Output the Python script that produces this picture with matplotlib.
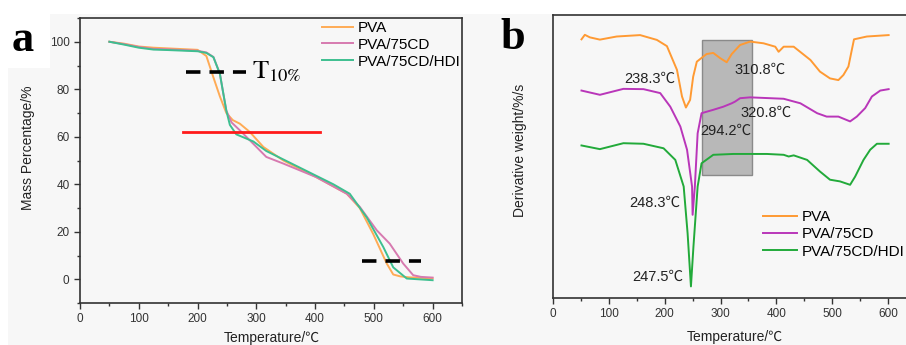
import matplotlib
matplotlib.use("Agg")
import matplotlib.pyplot as plt
from matplotlib.patches import Rectangle
from matplotlib.ticker import MultipleLocator

plt.rcParams['font.family'] = ['Liberation Sans', 'Noto Sans CJK SC', 'DejaVu Sans']
plt.rcParams['mathtext.fontset'] = 'stix'

names = ["PVA", "PVA/75CD", "PVA/75CD/HDI"]

# (a) TGA curves
pva_t = [50, 75, 100, 125, 150, 200, 215, 227, 238, 249, 260, 272, 289, 312, 346, 402, 454, 476, 499, 522, 533, 545, 560, 600]
pva_m = [100, 99.2, 98, 97.5, 97.2, 96.6, 94, 85, 77, 70, 67, 65.5, 62, 55.7, 50, 43, 36, 30, 19, 6.6, 2, 1.2, 0.8, 0.4]
cd_t = [50, 75, 100, 125, 150, 200, 215, 227, 238, 244, 249, 258, 272, 295, 317, 346, 402, 454, 476, 505, 527, 550, 567, 580, 600]
cd_m = [100, 99, 97.8, 97, 96.8, 96.2, 95.5, 93.6, 86.6, 78, 71, 66, 62.7, 57, 51.5, 48.7, 43, 36, 30.5, 20.6, 15, 6.6, 1.7, 1, 0.7]
hdi_t = [50, 75, 100, 125, 150, 200, 215, 227, 238, 244, 249, 255, 266, 295, 317, 374, 431, 459, 488, 516, 533, 556, 600]
hdi_m = [100, 98.8, 97.5, 96.7, 96.5, 96, 95.3, 93.5, 86.5, 78, 71, 65, 61, 58, 54, 47, 40, 36, 26, 13.6, 5, 0.3, -0.4]

# (b) DTG curves (arbitrary units, offset)
pva_dt = [51, 57, 66, 84, 114, 156, 186, 204, 222, 231, 238, 245.5, 251, 257.5, 269, 275, 287, 299, 311, 320, 335, 353, 377, 398, 404, 413, 431, 461, 478, 496, 511, 520, 529, 535, 539, 562, 601]
pva_d = [91.4, 93, 92.1, 91.3, 92.4, 92.9, 91.2, 89, 80.6, 71.2, 67.3, 70, 78.2, 83.5, 85.3, 86.2, 86.6, 84.8, 83.3, 86.2, 89.4, 90.6, 90, 88.8, 87, 88.8, 88.8, 84.1, 80, 77.6, 77, 78.8, 81.8, 87.6, 91.4, 92.4, 92.9]
cd_dt = [51, 84, 126, 162, 192, 210, 228, 240, 249, 250, 254, 259, 266, 287, 305, 320, 326, 335, 353, 413, 443, 473, 490, 511, 532, 544, 559, 571, 586, 601]
cd_d = [73.3, 71.8, 73.9, 73.8, 72.4, 67.6, 60.6, 52.4, 39.4, 29.4, 39.4, 58.2, 65.3, 66.5, 67.6, 68.8, 69.4, 70.6, 70.9, 70.4, 68.8, 65.3, 64.1, 64.1, 62.4, 64.1, 67.1, 71.2, 73.3, 73.8]
hdi_dt = [51, 84, 126, 162, 198, 219, 234, 241, 247, 251.5, 259, 266, 287, 323, 383, 413, 422, 431, 455, 478, 496, 514, 532, 541, 556, 568, 580, 601]
hdi_d = [53.9, 52.6, 54.7, 54.5, 52.9, 48.8, 39.4, 22.9, 4.1, 18.2, 39.4, 47.6, 50.6, 50.9, 50.9, 50.6, 50, 50.4, 48.8, 44.7, 41.8, 41.2, 40, 42.9, 48.8, 52.4, 54.5, 54.5]

peak_labels = ["238.3\u2103", "310.8\u2103", "320.8\u2103", "294.2\u2103", "248.3\u2103", "247.5\u2103"]
peak_x = [174, 370, 382, 310, 183, 188]
peak_y = [77.6, 80.6, 65.3, 59.2, 33.5, 7.6]

ticks_x = [0, 100, 200, 300, 400, 500, 600]
ticks_y = [0, 20, 40, 60, 80, 100]

fig = plt.figure(figsize=(9.06, 3.45), dpi=100)
bg = '#f7f7f7'
fig.patches.append(Rectangle((8 / 906, 0), 1, 1 - 14 / 345, transform=fig.transFigure,
                             facecolor=bg, edgecolor='none', zorder=-10))
fig.patches.append(Rectangle((8 / 906, 1 - 68 / 345), 42 / 906, 54 / 345, transform=fig.transFigure,
                             facecolor='white', edgecolor='none', zorder=-9))

axa = fig.add_axes([80 / 906, 1 - 303 / 345, 382 / 906, 285 / 345])
axb = fig.add_axes([553 / 906, 1 - 298 / 345, 363 / 906, 283 / 345])

spine_c = '#333333'
for ax in (axa, axb):
    ax.set_facecolor(bg)
    for s in ax.spines.values():
        s.set_color(spine_c)
        s.set_linewidth(1.2)
    ax.tick_params(direction='out', colors=spine_c, labelsize=8.5, labelcolor='#333333', length=4, width=1)
    ax.tick_params(which='minor', direction='out', colors=spine_c, length=2.5, width=1)
    ax.set_xlim(0, 650)
    ax.set_xticks(ticks_x)
    ax.xaxis.set_minor_locator(MultipleLocator(50))

# panel a
ca = ['#ffab55', '#d77ab0', '#3dbf90']
axa.plot(pva_t, pva_m, color=ca[0], lw=1.4, label=names[0])
axa.plot(cd_t, cd_m, color=ca[1], lw=1.4, label=names[1])
axa.plot(hdi_t, hdi_m, color=ca[2], lw=1.4, label=names[2])
axa.plot([181, 283], [87.3, 87.3], color='black', lw=2.6, linestyle=(0, (4, 2.5)))
axa.plot([479, 581], [7.7, 7.7], color='black', lw=2.6, linestyle=(0, (4, 2.5)))
axa.plot([175, 408], [61.9, 61.9], color='#ff1a1a', lw=2)
axa.text(293, 87.3, r'$\mathrm{T}_{10\%}$', fontsize=19, va='center', ha='left')
axa.set_ylim(-10, 110)
axa.set_yticks(ticks_y)
axa.yaxis.set_minor_locator(MultipleLocator(10))
axa.set_xlabel("Temperature/\u2103", fontsize=10, color='#222222')
axa.set_ylabel("Mass Percentage/%", fontsize=10, color='#222222')
axa.xaxis.set_label_coords(0.503, -0.098)
axa.yaxis.set_label_coords(-0.118, 0.546)
axa.legend(loc='upper left', bbox_to_anchor=(322 / 906, 1 - 21 / 345), bbox_transform=fig.transFigure,
           frameon=False, fontsize=11, handlelength=2.0, handletextpad=0.35, labelspacing=0.18,
           borderpad=0, borderaxespad=0)

# panel b
cb = ['#ff9a33', '#b936b9', '#22aa3a']
axb.add_patch(Rectangle((267.6, 43.5), 88.4, 47.7, facecolor='#b8b8b8', edgecolor='#8a8a8a', lw=1, zorder=1))
axb.plot(pva_dt, pva_d, color=cb[0], lw=1.4, label=names[0], zorder=2)
axb.plot(cd_dt, cd_d, color=cb[1], lw=1.4, label=names[1], zorder=2)
axb.plot(hdi_dt, hdi_d, color=cb[2], lw=1.4, label=names[2], zorder=2)
for lab, x, y in zip(peak_labels, peak_x, peak_y):
    axb.text(x, y, lab, fontsize=10.5, ha='center', va='center', color='#222222', zorder=3)
axb.set_ylim(0, 100)
axb.set_yticks([])
axb.set_xlabel("Temperature/\u2103", fontsize=10, color='#222222')
axb.set_ylabel("Derivative weight/%/s", fontsize=10, color='#222222')
axb.xaxis.set_label_coords(182 / 363, -0.113)
axb.yaxis.set_label_coords(-26 / 363, 0.52)
axb.legend(loc='upper left', bbox_to_anchor=(763 / 906, 1 - 210 / 345), bbox_transform=fig.transFigure,
           frameon=False, fontsize=11, handlelength=2.2, handletextpad=0.35, labelspacing=0.22,
           borderpad=0, borderaxespad=0)

fig.text(12 / 906, 1 - 40 / 345, "a", fontsize=32, fontweight='bold', family='Liberation Serif', va='center')
fig.text(500 / 906, 1 - 38 / 345, "b", fontsize=32, fontweight='bold', family='Liberation Serif', va='center')

fig.savefig("out.png", dpi=100, facecolor='white')
